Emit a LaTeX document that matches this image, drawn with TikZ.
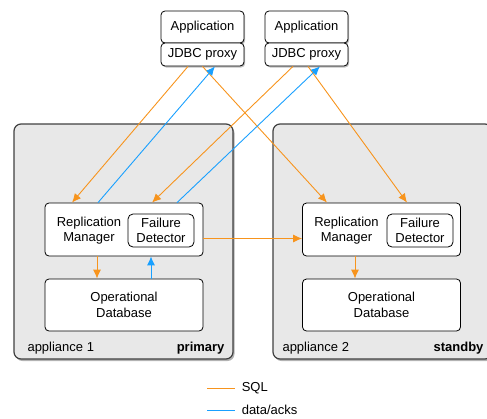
\documentclass[tikz,border=0pt]{standalone}
\usepackage{fontspec}
\setmainfont{Liberation Sans}
\usepackage{tikz}
\usetikzlibrary{arrows.meta,shadows}

\definecolor{sqlorange}{RGB}{247,148,29}
\definecolor{ackblue}{RGB}{25,160,255}
\newcommand{\diagfont}{\fontsize{13}{15.5}\selectfont}

\tikzset{
  box/.style={draw, rounded corners=4pt, fill=white, line width=0.8pt, align=center, inner sep=0pt},
  appbox/.style={box, drop shadow={shadow xshift=1.2pt, shadow yshift=-1.5pt, opacity=0.5}},
  appliance/.style={draw=black!75, rounded corners=7pt, fill=black!9, line width=1.2pt,
    drop shadow={shadow xshift=1.5pt, shadow yshift=-2pt, opacity=0.6}},
  sql/.style={draw=sqlorange, line width=0.9pt},
  ack/.style={draw=ackblue, line width=0.9pt},
  tip/.style={-{Latex[length=9pt,width=8pt]}},
}

\begin{document}
\begin{tikzpicture}[x=1pt,y=-1pt,font=\diagfont]
        \useasboundingbox (0,0) rectangle (487,418);
        \clip (0,0) rectangle (487,418);
        % Appliances
        \node[appliance, minimum width=219pt, minimum height=235pt] (applA) at (123.5,241.5) {};
        \node[appliance, minimum width=219pt, minimum height=235pt] (applB) at (382.5,241.5) {};
        \node[anchor=west] (nameA) at (24,348) {appliance 1};
        \node[anchor=east, font=\diagfont\bfseries] (roleA) at (228,348) {primary};
        \node[anchor=west] (nameB) at (279,348) {appliance 2};
        \node[anchor=east, font=\diagfont\bfseries] (roleB) at (487,348) {standby};
        % Clients
        \node[appbox, minimum width=83pt, minimum height=32pt] (appA) at (202.5,27) {Application};
        \node[appbox, minimum width=83pt, minimum height=23pt] (jdbcA) at (202.5,54.5) {JDBC proxy};
        \node[appbox, minimum width=83pt, minimum height=32pt] (appB) at (306.5,27) {Application};
        \node[appbox, minimum width=83pt, minimum height=23pt] (jdbcB) at (306.5,54.5) {JDBC proxy};
        % Replication manager e database, primary
        \node[box, minimum width=158pt, minimum height=53pt] (rmA) at (124,229.5) {};
        \node (rmAtxt) at (89,230.5) [align=center] {Replication\\Manager};
        \node[box, rounded corners=5pt, minimum width=66pt, minimum height=33pt] (fdA) at (161,230.5) {Failure\\Detector};
        \node[box, minimum width=158pt, minimum height=52pt] (dbA) at (124,305) {Operational\\Database};
        % Replication manager e database, standby
        \node[box, minimum width=158pt, minimum height=53pt] (rmB) at (381.5,229.5) {};
        \node (rmBtxt) at (346.5,230.5) [align=center] {Replication\\Manager};
        \node[box, rounded corners=5pt, minimum width=66pt, minimum height=33pt] (fdB) at (420,230.5) {Failure\\Detector};
        \node[box, minimum width=158pt, minimum height=52pt] (dbB) at (381.5,305) {Operational\\Database};
        % SQL
        \draw[sql,tip] ([xshift=-14.5pt]jdbcA.south) -- ([xshift=-52pt]rmA.north);
        \draw[sql,tip] (jdbcA.south) -- ([xshift=-54.5pt]rmB.north);
        \draw[sql,tip] ([xshift=-13.5pt]jdbcB.south) -- ([xshift=28pt]rmA.north);
        \draw[sql,tip] ([xshift=1.5pt]jdbcB.south) -- ([xshift=25.5pt]rmB.north);
        \draw[sql,tip] ([yshift=-9pt]rmA.east) -- ([yshift=-9pt]rmB.west);
        \draw[sql,tip] ([xshift=-27pt]rmA.south) -- ([xshift=-27pt]dbA.north);
        \draw[sql,tip] ([xshift=-26.5pt]rmB.south) -- ([xshift=-26.5pt]dbB.north);
        % data/acks
        \draw[ack,tip] ([xshift=-26pt]rmA.north) -- ([xshift=12.5pt]jdbcA.south);
        \draw[ack,tip] ([xshift=53pt]rmA.north) -- ([xshift=13.5pt]jdbcB.south);
        \draw[ack,tip] ([xshift=27pt]dbA.north) -- ([xshift=27pt]rmA.south);
        % Legenda
        \coordinate (sqlkey) at (207,388);
        \coordinate (ackkey) at (207,410);
        \draw[sql] (sqlkey) -- ++(28,0) node[right, xshift=3pt] (sqltxt) {SQL};
        \draw[ack] (ackkey) -- ++(28,0) node[right, xshift=3pt] (acktxt) {data/acks};
    \end{tikzpicture}
\end{document}
